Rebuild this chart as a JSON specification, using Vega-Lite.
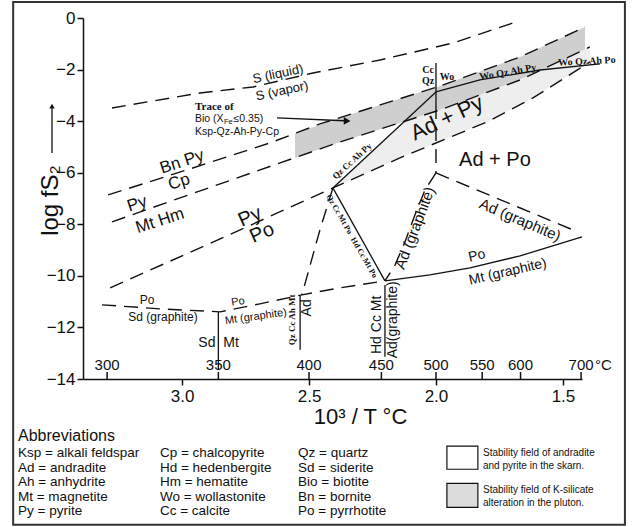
{
  "$schema": "https://vega.github.io/schema/vega-lite/v6.json",
  "width": 499,
  "height": 361,
  "autosize": {"type": "none"},
  "padding": {"left": 83, "top": 18, "right": 50, "bottom": 148},
  "background": "white",
  "config": {
    "view": {"stroke": null},
    "font": "Liberation Sans",
    "axis": {"grid": false, "domainColor": "#111", "tickColor": "#111", "labelColor": "#111", "titleColor": "#111", "labelFont": "Liberation Sans", "titleFont": "Liberation Sans", "domainWidth": 1.5, "tickWidth": 1.5}
  },
  "encoding": {
    "x": {"field": "t", "type": "quantitative", "scale": {"domain": [1.425, 3.39], "reverse": true, "nice": false, "zero": false},
      "axis": {"title": "10³ / T °C", "values": [3, 2.5, 2, 1.5], "format": ".1f", "labelFontSize": 17, "tickSize": 6, "labelPadding": 3, "titleFontSize": 22, "titleFontWeight": "normal", "titlePadding": 2, "titleX": 277, "labelFlush": false}},
    "y": {"field": "f", "type": "quantitative", "scale": {"domain": [-14, 0], "nice": false, "zero": false},
      "axis": {"title": "log fS₂", "values": [0, -2, -4, -6, -8, -10, -12, -14], "labelFontSize": 17, "tickSize": 6, "labelPadding": 2, "titleFontSize": 24, "titleFontWeight": "normal", "titleX": -33, "titleY": 182, "titleAlign": "center", "titleBaseline": "middle", "labelFlush": false}}
  },
  "layer": [
    {
      "data": {"values": [
        {"t": 2.555, "f": -4.477, "f2": -5.417},
        {"t": 2.378, "f": -3.864, "f2": -4.806},
        {"t": 2.220, "f": -3.372, "f2": -4.310},
        {"t": 1.984, "f": -2.636, "f2": -3.566},
        {"t": 1.669, "f": -1.512, "f2": -2.403},
        {"t": 1.413, "f": -0.349, "f2": -1.217}
      ]},
      "mark": {"type": "area", "color": "#cfcfcf"},
      "encoding": {"y2": {"field": "f2"}}
    },
    {
      "data": {"values": [
        {"t": 2.406, "f": -6.589, "f2": -6.589},
        {"t": 2.260, "f": -5.279, "f2": -5.946},
        {"t": 2.114, "f": -3.977, "f2": -5.314},
        {"t": 1.984, "f": -3.566, "f2": -4.783},
        {"t": 1.799, "f": -2.884, "f2": -4.031},
        {"t": 1.618, "f": -2.167, "f2": -3.101},
        {"t": 1.394, "f": -1.124, "f2": -1.705}
      ]},
      "mark": {"type": "area", "color": "#eeeeee"},
      "encoding": {"y2": {"field": "f2"}}
    },
    {
      "data": {"values": [
        {"id": "S", "i": 1, "t": 3.276, "f": -3.488},
        {"id": "S", "i": 2, "t": 2.929, "f": -2.907},
        {"id": "S", "i": 3, "t": 2.720, "f": -2.674},
        {"id": "S", "i": 4, "t": 2.484, "f": -2.132},
        {"id": "S", "i": 5, "t": 2.220, "f": -1.628},
        {"id": "S", "i": 6, "t": 1.933, "f": -0.969},
        {"id": "S", "i": 7, "t": 1.697, "f": -0.194},
        {"id": "A", "i": 1, "t": 3.291, "f": -6.860},
        {"id": "A", "i": 2, "t": 2.969, "f": -5.853},
        {"id": "A", "i": 3, "t": 2.654, "f": -4.845},
        {"id": "A", "i": 4, "t": 2.457, "f": -4.109},
        {"id": "A", "i": 5, "t": 2.220, "f": -3.372},
        {"id": "A", "i": 6, "t": 1.984, "f": -2.636},
        {"id": "A", "i": 7, "t": 1.669, "f": -1.512},
        {"id": "A", "i": 8, "t": 1.413, "f": -0.349},
        {"id": "B", "i": 1, "t": 3.276, "f": -7.907},
        {"id": "B", "i": 2, "t": 3.008, "f": -6.977},
        {"id": "B", "i": 3, "t": 2.614, "f": -5.620},
        {"id": "B", "i": 4, "t": 2.378, "f": -4.806},
        {"id": "B", "i": 5, "t": 1.984, "f": -3.566},
        {"id": "B", "i": 6, "t": 1.669, "f": -2.403},
        {"id": "B", "i": 7, "t": 1.394, "f": -1.124},
        {"id": "PyPo", "i": 1, "t": 3.283, "f": -10.465},
        {"id": "PyPo", "i": 2, "t": 2.850, "f": -8.566},
        {"id": "PyPo", "i": 3, "t": 2.406, "f": -6.589},
        {"id": "PyPo", "i": 4, "t": 2.142, "f": -5.426},
        {"id": "PyPo", "i": 5, "t": 1.799, "f": -4.031},
        {"id": "PyPo", "i": 6, "t": 1.618, "f": -3.101},
        {"id": "PyPo", "i": 7, "t": 1.394, "f": -1.705},
        {"id": "V500", "i": 1, "t": 2.0, "f": -3.372},
        {"id": "V500", "i": 2, "t": 2.0, "f": -6.008},
        {"id": "AdGrR", "i": 1, "t": 2.0, "f": -6.008},
        {"id": "AdGrR", "i": 2, "t": 1.461, "f": -8.217},
        {"id": "AdGrC", "i": 1, "t": 2.0, "f": -6.008},
        {"id": "AdGrC", "i": 2, "t": 2.043, "f": -6.667},
        {"id": "AdGrC", "i": 3, "t": 2.083, "f": -7.636},
        {"id": "AdGrC", "i": 4, "t": 2.122, "f": -8.682},
        {"id": "AdGrC", "i": 5, "t": 2.161, "f": -9.574},
        {"id": "AdGrC", "i": 6, "t": 2.201, "f": -10.194},
        {"id": "Steep", "i": 1, "t": 2.406, "f": -6.589},
        {"id": "Steep", "i": 2, "t": 2.457, "f": -8.217},
        {"id": "Steep", "i": 3, "t": 2.528, "f": -10.736},
        {"id": "Low", "i": 1, "t": 3.315, "f": -11.124},
        {"id": "Low", "i": 2, "t": 3.087, "f": -11.279},
        {"id": "Low", "i": 3, "t": 2.850, "f": -11.395},
        {"id": "Low", "i": 4, "t": 2.693, "f": -11.085},
        {"id": "Low", "i": 5, "t": 2.528, "f": -10.736},
        {"id": "Low", "i": 6, "t": 2.378, "f": -10.465},
        {"id": "Low", "i": 7, "t": 2.201, "f": -10.194}
      ]},
      "mark": {"type": "line", "strokeDash": [14, 8], "strokeWidth": 1.4, "color": "#111"},
      "encoding": {"detail": {"field": "id"}, "order": {"field": "i", "type": "quantitative"}}
    },
    {
      "data": {"values": [
        {"id": "QzCcAhPy", "i": 1, "t": 2.406, "f": -6.589},
        {"id": "QzCcAhPy", "i": 2, "t": 2.0, "f": -2.868},
        {"id": "V500s", "i": 1, "t": 2.0, "f": -1.744},
        {"id": "V500s", "i": 2, "t": 2.0, "f": -3.372},
        {"id": "WoQz", "i": 1, "t": 2.0, "f": -2.868},
        {"id": "WoQz", "i": 2, "t": 1.827, "f": -2.403},
        {"id": "WoQz", "i": 3, "t": 1.591, "f": -2.016},
        {"id": "WoQz", "i": 4, "t": 1.354, "f": -1.783},
        {"id": "PoMt", "i": 1, "t": 2.201, "f": -10.194},
        {"id": "PoMt", "i": 2, "t": 2.024, "f": -9.961},
        {"id": "PoMt", "i": 3, "t": 1.866, "f": -9.690},
        {"id": "PoMt", "i": 4, "t": 1.669, "f": -9.225},
        {"id": "PoMt", "i": 5, "t": 1.425, "f": -8.488},
        {"id": "QzCcMtPo", "i": 1, "t": 2.406, "f": -6.589},
        {"id": "QzCcMtPo", "i": 2, "t": 2.201, "f": -10.194},
        {"id": "SdMt", "i": 1, "t": 2.857, "f": -11.395},
        {"id": "SdMt", "i": 2, "t": 2.857, "f": -13.64},
        {"id": "QzCcAhMt", "i": 1, "t": 2.535, "f": -10.77},
        {"id": "QzCcAhMt", "i": 2, "t": 2.535, "f": -12.87},
        {"id": "HdCcMt", "i": 1, "t": 2.201, "f": -10.35},
        {"id": "HdCcMt", "i": 2, "t": 2.201, "f": -13.14},
        {"id": "Arrow", "i": 1, "t": 2.626, "f": -3.876},
        {"id": "Arrow", "i": 2, "t": 2.36, "f": -3.985},
        {"id": "YArrow", "i": 1, "t": 3.512, "f": -5.233},
        {"id": "YArrow", "i": 2, "t": 3.512, "f": -3.5}
      ]},
      "mark": {"type": "line", "strokeWidth": 1.3, "color": "#111"},
      "encoding": {"detail": {"field": "id"}, "order": {"field": "i", "type": "quantitative"}}
    },
    {
      "data": {"values": [{"t": 2.35, "f": -3.99}]},
      "mark": {"type": "point", "shape": "triangle-right", "filled": true, "color": "#111", "size": 60, "opacity": 1}
    },
    {
      "data": {"values": [{"t": 3.512, "f": -3.42}]},
      "mark": {"type": "point", "shape": "triangle-up", "filled": true, "color": "#111", "size": 30, "opacity": 1}
    },
    {
      "data": {"values": [
        {"t": 3.295, "f": -14, "f2": -13.73},
        {"t": 2.857, "f": -14, "f2": -13.73},
        {"t": 2.5, "f": -14, "f2": -13.73},
        {"t": 2.215, "f": -14, "f2": -13.73},
        {"t": 2.0, "f": -14, "f2": -13.73},
        {"t": 1.818, "f": -14, "f2": -13.73},
        {"t": 1.667, "f": -14, "f2": -13.73},
        {"t": 1.4286, "f": -14, "f2": -13.73}
      ]},
      "mark": {"type": "rule", "strokeWidth": 1.5, "color": "#111"},
      "encoding": {"y2": {"field": "f2"}}
    },
    {
      "data": {"values": [
        {"t": 3.295, "f": -13.45, "label": "300"},
        {"t": 2.857, "f": -13.45, "label": "350"},
        {"t": 2.5, "f": -13.45, "label": "400"},
        {"t": 2.215, "f": -13.45, "label": "450"},
        {"t": 2.0, "f": -13.45, "label": "500"},
        {"t": 1.818, "f": -13.45, "label": "550"},
        {"t": 1.667, "f": -13.45, "label": "600"},
        {"t": 1.4286, "f": -13.45, "label": "700"}
      ]},
      "mark": {"type": "text", "fontSize": 15, "align": "center", "baseline": "middle", "color": "#111"},
      "encoding": {"text": {"field": "label"}}
    },
    {
      "data": {"values": [{"t": 1.374, "f": -13.45, "label": "°C"}]},
      "mark": {"type": "text", "fontSize": 15, "align": "left", "baseline": "middle", "color": "#111"},
      "encoding": {"text": {"field": "label"}}
    },
    {
      "data": {"values": [
        {"t": 2.622, "f": -2.171, "label": "S (liquid)"},
        {"t": 2.606, "f": -2.829, "label": "S (vapor)"}
      ]},
      "mark": {"type": "text", "fontSize": 13, "angle": -12, "align": "center", "baseline": "middle", "color": "#111"},
      "encoding": {"text": {"field": "label"}}
    },
    {
      "data": {"values": [{"t": 2.949, "f": -3.45, "label": "Trace of"}]},
      "mark": {"type": "text", "font": "Liberation Serif", "fontWeight": "bold", "fontSize": 11, "align": "left", "baseline": "middle", "color": "#111"},
      "encoding": {"text": {"field": "label"}}
    },
    {
      "data": {"values": [
        {"t": 2.949, "f": -3.915, "label": "Bio (X"},
        {"t": 2.797, "f": -3.915, "label": "≤0.35)"},
        {"t": 2.949, "f": -4.419, "label": "Ksp-Qz-Ah-Py-Cp"}
      ]},
      "mark": {"type": "text", "fontSize": 10.5, "align": "left", "baseline": "middle", "color": "#111"},
      "encoding": {"text": {"field": "label"}}
    },
    {
      "data": {"values": [{"t": 2.835, "f": -4.031, "label": "Fe"}]},
      "mark": {"type": "text", "fontSize": 7.5, "align": "left", "baseline": "middle", "color": "#111"},
      "encoding": {"text": {"field": "label"}}
    },
    {
      "data": {"values": [
        {"t": 3.0, "f": -5.581, "label": "Bn Py"},
        {"t": 3.012, "f": -6.357, "label": "Cp"},
        {"t": 3.177, "f": -7.209, "label": "Py"},
        {"t": 3.087, "f": -7.868, "label": "Mt Hm"}
      ]},
      "mark": {"type": "text", "fontSize": 17, "angle": -18, "align": "center", "baseline": "middle", "color": "#111"},
      "encoding": {"text": {"field": "label"}}
    },
    {
      "data": {"values": [
        {"t": 2.732, "f": -7.713, "label": "Py"},
        {"t": 2.685, "f": -8.333, "label": "Po"}
      ]},
      "mark": {"type": "text", "fontSize": 20, "angle": -24, "align": "center", "baseline": "middle", "color": "#111"},
      "encoding": {"text": {"field": "label"}}
    },
    {
      "data": {"values": [{"t": 1.957, "f": -3.876, "label": "Ad + Py"}]},
      "mark": {"type": "text", "fontSize": 22, "angle": -25, "align": "center", "baseline": "middle", "color": "#111"},
      "encoding": {"text": {"field": "label"}}
    },
    {
      "data": {"values": [{"t": 1.768, "f": -5.504, "label": "Ad + Po"}]},
      "mark": {"type": "text", "fontSize": 20, "align": "center", "baseline": "middle", "color": "#111"},
      "encoding": {"text": {"field": "label"}}
    },
    {
      "data": {"values": [
        {"t": 2.031, "f": -2.016, "label": "Cc"},
        {"t": 2.031, "f": -2.442, "label": "Qz"},
        {"t": 1.957, "f": -2.287, "label": "Wo"}
      ]},
      "mark": {"type": "text", "font": "Liberation Serif", "fontWeight": "bold", "fontSize": 10, "align": "center", "baseline": "middle", "color": "#111"},
      "encoding": {"text": {"field": "label"}}
    },
    {
      "data": {"values": [{"t": 1.717, "f": -2.1, "label": "Wo Qz Ah Py"}]},
      "mark": {"type": "text", "font": "Liberation Serif", "fontWeight": "bold", "fontSize": 10, "angle": -10, "align": "center", "baseline": "middle", "color": "#111"},
      "encoding": {"text": {"field": "label"}}
    },
    {
      "data": {"values": [{"t": 1.406, "f": -1.68, "label": "Wo Qz Ah Po"}]},
      "mark": {"type": "text", "font": "Liberation Serif", "fontWeight": "bold", "fontSize": 10, "angle": -3, "align": "center", "baseline": "middle", "color": "#111"},
      "encoding": {"text": {"field": "label"}}
    },
    {
      "data": {"values": [{"t": 2.331, "f": -5.543, "label": "Qz Cc Ah Py"}]},
      "mark": {"type": "text", "font": "Liberation Serif", "fontWeight": "bold", "fontSize": 9, "angle": -42, "align": "center", "baseline": "middle", "color": "#111"},
      "encoding": {"text": {"field": "label"}}
    },
    {
      "data": {"values": [
        {"t": 2.382, "f": -7.62, "label": "Qz Cc Mt Po"},
        {"t": 2.285, "f": -9.3, "label": "Hd Cc Mt Po"}
      ]},
      "mark": {"type": "text", "font": "Liberation Serif", "fontWeight": "bold", "fontSize": 8, "angle": 60, "align": "center", "baseline": "middle", "color": "#111"},
      "encoding": {"text": {"field": "label"}}
    },
    {
      "data": {"values": [{"t": 2.083, "f": -8.14, "label": "Ad (graphite)"}]},
      "mark": {"type": "text", "fontSize": 15, "angle": -69, "align": "center", "baseline": "middle", "color": "#111"},
      "encoding": {"text": {"field": "label"}}
    },
    {
      "data": {"values": [{"t": 1.669, "f": -7.829, "label": "Ad (graphite)"}]},
      "mark": {"type": "text", "fontSize": 15, "angle": 23, "align": "center", "baseline": "middle", "color": "#111"},
      "encoding": {"text": {"field": "label"}}
    },
    {
      "data": {"values": [
        {"t": 1.839, "f": -9.225, "label": "Po"},
        {"t": 1.717, "f": -9.845, "label": "Mt (graphite)"}
      ]},
      "mark": {"type": "text", "fontSize": 14, "angle": -13, "align": "center", "baseline": "middle", "color": "#111"},
      "encoding": {"text": {"field": "label"}}
    },
    {
      "data": {"values": [
        {"t": 3.138, "f": -10.93, "label": "Po"},
        {"t": 3.075, "f": -11.589, "label": "Sd (graphite)"}
      ]},
      "mark": {"type": "text", "fontSize": 12, "align": "center", "baseline": "middle", "color": "#111"},
      "encoding": {"text": {"field": "label"}}
    },
    {
      "data": {"values": [
        {"t": 2.78, "f": -11.008, "label": "Po"},
        {"t": 2.709, "f": -11.589, "label": "Mt (graphite)"}
      ]},
      "mark": {"type": "text", "fontSize": 11, "angle": -8, "align": "center", "baseline": "middle", "color": "#111"},
      "encoding": {"text": {"field": "label"}}
    },
    {
      "data": {"values": [
        {"t": 2.902, "f": -12.597, "label": "Sd"},
        {"t": 2.807, "f": -12.597, "label": "Mt"}
      ]},
      "mark": {"type": "text", "fontSize": 14, "align": "center", "baseline": "middle", "color": "#111"},
      "encoding": {"text": {"field": "label"}}
    },
    {
      "data": {"values": [{"t": 2.567, "f": -11.705, "label": "Qz Cc Ah Mt"}]},
      "mark": {"type": "text", "font": "Liberation Serif", "fontWeight": "bold", "fontSize": 9, "angle": -90, "align": "center", "baseline": "middle", "color": "#111"},
      "encoding": {"text": {"field": "label"}}
    },
    {
      "data": {"values": [
        {"t": 2.508, "f": -11.24, "label": "Ad"},
        {"t": 2.232, "f": -11.899, "label": "Hd Cc Mt"},
        {"t": 2.169, "f": -11.705, "label": "Ad(graphite)"}
      ]},
      "mark": {"type": "text", "fontSize": 14, "angle": -90, "align": "center", "baseline": "middle", "color": "#111"},
      "encoding": {"text": {"field": "label"}}
    },
    {
      "data": {"values": [
        {"t": 3.665, "t2": 1.256, "f": 0.62, "f2": -19.65}
      ]},
      "mark": {"type": "rect", "fill": null, "fillOpacity": 0, "stroke": "#333", "strokeWidth": 2},
      "encoding": {"x2": {"field": "t2"}, "y2": {"field": "f2"}}
    },
    {
      "data": {"values": [
        {"t": 1.957, "t2": 1.835, "f": -16.6, "f2": -17.5}
      ]},
      "mark": {"type": "rect", "fill": "white", "stroke": "#111", "strokeWidth": 1.2},
      "encoding": {"x2": {"field": "t2"}, "y2": {"field": "f2"}}
    },
    {
      "data": {"values": [
        {"t": 1.957, "t2": 1.835, "f": -18.05, "f2": -18.98}
      ]},
      "mark": {"type": "rect", "fill": "#dcdcdc", "stroke": "#111", "strokeWidth": 1.2},
      "encoding": {"x2": {"field": "t2"}, "y2": {"field": "f2"}}
    },
    {
      "data": {"values": [{"t": 3.646, "f": -16.202, "label": "Abbreviations"}]},
      "mark": {"type": "text", "fontSize": 16, "align": "left", "baseline": "middle", "color": "#111"},
      "encoding": {"text": {"field": "label"}}
    },
    {
      "data": {"values": [
        {"t": 3.646, "f": -16.86, "label": "Ksp = alkali feldspar"},
        {"t": 3.646, "f": -17.44, "label": "Ad = andradite"},
        {"t": 3.646, "f": -17.98, "label": "Ah = anhydrite"},
        {"t": 3.646, "f": -18.57, "label": "Mt = magnetite"},
        {"t": 3.646, "f": -19.11, "label": "Py = pyrite"},
        {"t": 3.087, "f": -16.86, "label": "Cp = chalcopyrite"},
        {"t": 3.087, "f": -17.44, "label": "Hd = hedenbergite"},
        {"t": 3.087, "f": -17.98, "label": "Hm = hematite"},
        {"t": 3.087, "f": -18.57, "label": "Wo = wollastonite"},
        {"t": 3.087, "f": -19.11, "label": "Cc = calcite"},
        {"t": 2.543, "f": -16.86, "label": "Qz = quartz"},
        {"t": 2.543, "f": -17.44, "label": "Sd = siderite"},
        {"t": 2.543, "f": -17.98, "label": "Bio = biotite"},
        {"t": 2.543, "f": -18.57, "label": "Bn = bornite"},
        {"t": 2.543, "f": -19.11, "label": "Po = pyrrhotite"}
      ]},
      "mark": {"type": "text", "fontSize": 13.5, "align": "left", "baseline": "middle", "color": "#111"},
      "encoding": {"text": {"field": "label"}}
    },
    {
      "data": {"values": [
        {"t": 1.815, "f": -16.86, "label": "Stability field of andradite"},
        {"t": 1.815, "f": -17.36, "label": "and pyrite in the skarn."},
        {"t": 1.815, "f": -18.29, "label": "Stability field of K-silicate"},
        {"t": 1.815, "f": -18.8, "label": "alteration in the pluton."}
      ]},
      "mark": {"type": "text", "fontSize": 10, "align": "left", "baseline": "middle", "color": "#111"},
      "encoding": {"text": {"field": "label"}}
    }
  ]
}
